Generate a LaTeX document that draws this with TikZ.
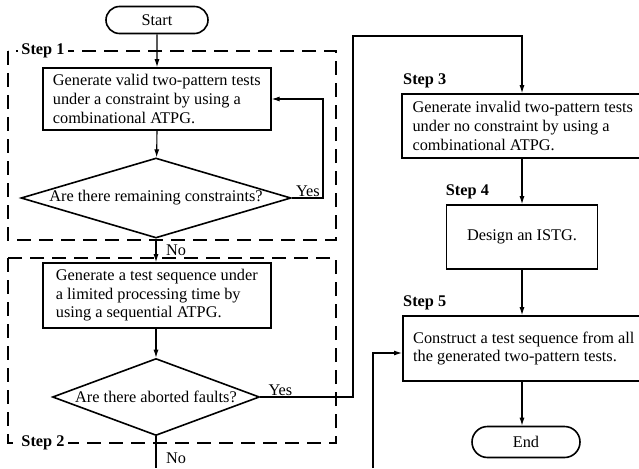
\documentclass[tikz,border=0pt]{standalone}
\usepackage{fontspec}
\setmainfont{Liberation Serif}
\usetikzlibrary{arrows.meta,shapes.geometric,shapes.misc}

\begin{document}
\begin{tikzpicture}[x=1pt,y=1pt,
  font=\fontsize{16.3}{18.6}\selectfont,
  every node/.style={inner sep=0pt},
  procbox/.style={draw,line width=1.6pt,rectangle,align=left,inner xsep=10pt},
  termbox/.style={draw,line width=1.6pt,rounded rectangle},
  decision/.style={draw,line width=1.6pt,diamond},
  flow/.style={line width=1.1pt,-{Latex[length=8pt,width=5pt]}},
  plain/.style={line width=1.1pt},
  stepframe/.style={line width=1.1pt,dash pattern=on 14pt off 8pt},
  steplabel/.style={font=\fontsize{16.3}{18.6}\selectfont\bfseries},
  framelabel/.style={steplabel,fill=white,inner xsep=3pt,inner ysep=1pt}
]
\useasboundingbox (0,0) rectangle (639,-468);

% dashed frames of steps 1 and 2
\draw[stepframe] (8,-51) rectangle (336,-240);
\draw[stepframe] (8,-258) rectangle (336,-443);
\node[framelabel] (s1) at (43,-51) {Step 1};
\node[framelabel] (s2) at (43,-443) {Step 2};

% left column
\node[termbox,minimum width=102pt,minimum height=27pt] (start) at (157,-20) {Start};
\node[procbox,anchor=west,minimum width=228pt,minimum height=62pt] (box1) at (42,-99)
  {Generate valid two-pattern tests\\under a constraint by using a\\combinational ATPG.};
\node[decision,minimum width=270pt,minimum height=80pt] (d1) at (156,-198) {};
\node (d1t) at (d1) {Are there remaining constraints?};
\node[procbox,anchor=west,minimum width=228pt,minimum height=65pt] (box2) at (42,-295.5)
  {Generate a test sequence under\\a limited processing time by\\using a sequential ATPG.};
\node[decision,minimum width=207pt,minimum height=77pt] (d2) at (156,-397) {};
\node (d2t) at (d2) {Are there aborted faults?};

% right column (boxes 3 and 5 run on past the right edge of the page)
\node[procbox,anchor=west,minimum width=242pt,minimum height=64pt] (box3) at (401,-126)
  {Generate invalid two-pattern tests\\under no constraint by using a\\combinational ATPG.};
\node[procbox,align=center,minimum width=151pt,minimum height=64pt] (box4) at (522,-237) {Design an ISTG.};
\node[procbox,anchor=west,minimum width=242pt,minimum height=65pt] (box5) at (402,-348.5)
  {Construct a test sequence from all\\the generated two-pattern tests.};
\node[termbox,minimum width=108pt,minimum height=31pt] (end) at (526,-442) {End};

\node[steplabel,anchor=south west] (s3) at ([xshift=2pt,yshift=5pt]box3.north west) {Step 3};
\node[steplabel,anchor=south west] (s4) at ([yshift=5pt]box4.north west) {Step 4};
\node[steplabel,anchor=south west] (s5) at ([xshift=1pt,yshift=5pt]box5.north west) {Step 5};

% free ends and bends
\coordinate (r1) at (323,-198);
\coordinate (r2) at (353,-36);
\coordinate (cutA) at (156,-468);
\coordinate (cutB) at (373,-468);

% connectors
\draw[flow] (start) -- (start |- box1.north);
\draw[flow] (start |- box1.south) -- (d1);
\draw[flow] (d1.east) -- (r1) |- (box1.east);
\draw[flow] (d1.south) -- (d1.south |- box2.north);
\draw[flow] (d1.south |- box2.south) -- (d2);
\draw[flow] (d2.east) -| (r2) -| (box4.north |- box3.north);
\draw[plain] (d2.south) -- (cutA);
\draw[flow] (box4.north |- box3.south) -- (box4.north);
\draw[flow] (box4.south) -- (box4.south |- box5.north);
\draw[flow] (box4.south |- box5.south) -- (box4.south |- end.north);
\draw[flow] (cutB) |- ([yshift=-4.5pt]box5.west);

% branch labels
\node[anchor=south west] (y1) at ([xshift=4pt,yshift=1pt]d1.east) {Yes};
\node[anchor=west] (n1) at (166,-250) {No};
\node[anchor=south west] (y2) at ([xshift=8pt,yshift=1pt]d2.east) {Yes};
\node[anchor=west] (n2) at (166,-458) {No};
\end{tikzpicture}
\end{document}
